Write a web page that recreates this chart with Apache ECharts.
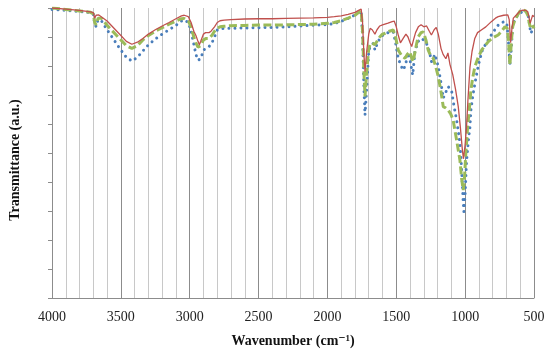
<!DOCTYPE html>
<html><head><meta charset="utf-8">
<script src="https://cdn.jsdelivr.net/npm/echarts@6/dist/echarts.min.js"></script>
<style>html,body{margin:0;padding:0;background:#fff}#c{width:550px;height:354px}</style>
</head><body><div id="c"></div>
<script>
const xTicks = [4000, 3500, 3000, 2500, 2000, 1500, 1000, 500];

const redWn = [4000,3900,3800,3720,3700,3690,3680,3660,3600,3550,3500,3460,3420,3380,3340,3300,3250,3200,3150,3100,3060,3040,3010,2990,2970,2955,2940,2930,2920,2900,2885,2860,2845,2820,2800,2780,2750,2700,2600,2500,2400,2300,2200,2100,2000,1950,1900,1850,1800,1770,1755,1745,1735,1727,1715,1700,1690,1675,1665,1655,1640,1620,1600,1560,1530,1515,1500,1485,1470,1450,1430,1415,1400,1388,1375,1360,1340,1320,1300,1280,1260,1245,1225,1210,1195,1175,1160,1140,1125,1110,1090,1070,1050,1035,1020,1012,1000,990,980,965,950,930,910,880,850,810,780,760,720,690,680,670,660,650,640,620,600,580,560,545,535,528,520,510,500];
const redVal = [100,99.6,99.2,98.7,98.4,96.5,97.5,97.6,95.5,93,90.5,88.5,87.5,88.2,89.5,91,92.5,93.8,95,96.3,97.3,97.5,97,95,92,90.5,88.5,87.3,88.5,91,91.5,91.5,92,93.5,95,95.6,95.8,96,96.2,96.3,96.3,96.4,96.5,96.6,96.8,97,97.3,97.8,98.5,99.3,99.6,95,84,78,85,91,93,92.5,92.8,91,92.5,93.8,94.2,94.8,95.3,95.5,93.5,90.5,88,89.5,91,90,88,86.7,89,91.5,93.5,94.2,93.5,93.8,92,90.7,92.5,93.3,91,86,84,82.5,84.5,80.5,77,72,66,59,51,48,53,59,68,79.5,85,89.5,91.5,92.5,93.5,95.3,96.5,97,97.5,97.6,96,88,93,96.5,97,98,99,99.3,99.2,98.7,96.5,94.7,96,97.5,97];

const greenWn = [4000,3900,3800,3720,3700,3690,3680,3665,3640,3600,3550,3500,3460,3420,3380,3340,3300,3250,3200,3150,3100,3060,3040,3010,2990,2970,2955,2940,2930,2920,2900,2880,2860,2840,2820,2800,2780,2750,2700,2600,2500,2400,2300,2200,2100,2000,1950,1900,1850,1800,1770,1755,1745,1735,1727,1715,1700,1690,1675,1665,1655,1640,1620,1600,1580,1550,1522,1505,1486,1460,1437,1420,1401,1390,1377,1360,1341,1320,1304,1285,1268,1250,1232,1215,1195,1175,1159,1140,1123,1105,1087,1075,1062,1050,1038,1025,1014,1005,995,982,970,958,945,929,905,880,855,832,800,760,735,711,695,685,675,665,655,639,620,600,580,560,545,535,528,515,500];
const greenVal = [100,99.5,99,98.5,98,95,94.2,96.5,96.5,94,91.5,89,87,86.1,87,89,90.5,92,93.2,94.4,95.5,96.3,96.4,95.5,93.5,90,88,86.5,86,87,89,89.5,89.5,90.5,92,93,93.5,93.7,93.9,94,94.1,94.1,94.2,94.3,94.4,94.7,95,95.6,96.5,97.5,98.6,99,92,78,69.5,78,86,87.5,88,88.3,87.3,88.5,90,91,91.3,92,92.4,90,85.5,83.5,82.7,84,84.9,83,81.5,86,90.1,91.5,91.8,89,85.5,83.5,82.7,80,76.3,71,66,65.5,64.8,63.5,61.4,58,54.5,51,47.6,41,37.2,41,50,59,65,71.7,76,79.8,83,85.5,87,88.4,89.7,90.7,92,93.6,93,89,80.3,88,93.5,95.9,97.5,99,99.3,99,97.5,95,93.6,94.5,93];

const blueWn = [4000,3900,3800,3720,3700,3690,3680,3665,3640,3600,3550,3500,3460,3420,3380,3340,3300,3250,3200,3150,3100,3060,3040,3010,2990,2970,2955,2940,2930,2920,2900,2889,2860,2840,2820,2800,2780,2750,2700,2600,2500,2400,2300,2200,2100,2000,1950,1900,1850,1800,1770,1755,1745,1735,1727,1715,1699,1685,1667,1655,1640,1620,1600,1582,1550,1522,1505,1486,1465,1449,1437,1425,1413,1400,1381,1370,1365,1340,1317,1290,1268,1255,1244,1232,1220,1208,1195,1175,1159,1140,1123,1110,1098,1080,1062,1050,1038,1025,1015,1009,1000,990,975,965,958,945,929,915,904,890,880,855,832,810,796,775,760,735,711,695,685,675,665,655,639,614,590,578,560,542,532,523,510,500];
const blueVal = [99.5,99.2,98.8,98.4,97.8,94.5,93.6,96,95.5,92.5,89,85.5,83,81.7,83,85.2,87.3,89.3,91,92.5,94,95.5,95.9,95,92,87.5,84,82,81.5,82.5,85.5,86.1,86.7,87.8,90,92.4,92.8,93,93,93.1,93.2,93.3,93.5,93.8,94.1,94.3,94.6,95.4,96.4,97.6,98.6,99,90,72,63.1,72,85.5,87,87.8,85.5,87.5,89.5,90.5,91.3,91.6,91.8,88,82.7,80,78.6,80,82,84.5,82,76.9,82,85,88.5,89.5,88.5,86.6,84,81.5,82.5,84,82,79.8,74,68.9,71,72.9,72,71.3,66,61.4,57.5,53.3,44,34,29.8,36,47,55,59,64.8,69.5,74,77.5,80.3,82.7,84.9,87.2,89,90.7,91.8,93,94.1,95,95.3,94,88,80.3,86,93.5,96.4,97.6,98.6,99.3,98.8,97.6,94,91.3,92.5,92.2];

const pairs = (w, v) => w.map((x, i) => [x, v[i]]);
const serif = '"Liberation Serif", "DejaVu Serif", serif';

const chart = echarts.init(document.getElementById('c'), null, {renderer: 'canvas'});
chart.setOption({
  animation: false,
  backgroundColor: '#fff',
  grid: {left: 52, right: 16, top: 8, bottom: 56, containLabel: false},
  xAxis: {
    type: 'value', min: 500, max: 4000, interval: 500, inverse: true,
    name: 'Wavenumber (cm\u207B\u00B9)', nameLocation: 'middle', nameGap: 36,
    nameTextStyle: {fontFamily: serif, fontWeight: 'bold', fontSize: 14, color: '#111'},
    axisLine: {show: true, lineStyle: {color: '#8c8c8c', width: 1}},
    axisTick: {show: false},
    axisLabel: {fontFamily: serif, fontSize: 14, color: '#222', margin: 12,
      formatter: v => xTicks.includes(v) ? String(v) : ''},
    splitLine: {show: true, lineStyle: {color: '#8c8c8c', width: 1}},
    minorTick: {show: false, splitNumber: 5},
    minorSplitLine: {show: true, lineStyle: {color: '#c8c8c8', width: 1}}
  },
  yAxis: {
    type: 'value', min: 0, max: 100, interval: 10,
    name: 'Transmittance (a.u.)', nameLocation: 'middle', nameGap: 30, nameRotate: 90,
    nameTextStyle: {fontFamily: serif, fontWeight: 'bold', fontSize: 14, color: '#111', padding: [0, 14, 0, 0]},
    axisLine: {show: true, lineStyle: {color: '#8c8c8c', width: 1}},
    axisTick: {show: true, inside: false, length: 4, lineStyle: {color: '#8c8c8c'}},
    axisLabel: {show: false},
    splitLine: {show: false}
  },
  series: [
    {type: 'line', name: 'blue', data: pairs(blueWn, blueVal), showSymbol: false, symbol: 'none',
     lineStyle: {color: '#4A7EBB', width: 3, type: [0.01, 6], cap: 'round'}},
    {type: 'line', name: 'green', data: pairs(greenWn, greenVal), showSymbol: false, symbol: 'none',
     lineStyle: {color: '#9BBB59', width: 3, type: [8, 3.5], cap: 'butt'}},
    {type: 'line', name: 'red', data: pairs(redWn, redVal), showSymbol: false, symbol: 'none',
     lineStyle: {color: '#C0504D', width: 1.3}}
  ]
});
</script></body></html>
